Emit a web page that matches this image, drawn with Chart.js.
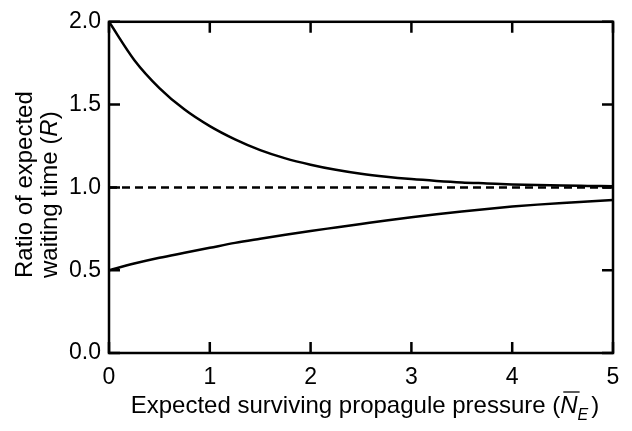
<!DOCTYPE html>
<html>
<head>
<meta charset="utf-8">
<script src="https://cdn.jsdelivr.net/npm/chart.js@4/dist/chart.umd.min.js"></script>
<style>
  html, body { margin: 0; padding: 0; background: #fff; }
  #wrap { width: 632px; height: 431px; }
</style>
</head>
<body>
<div id="wrap"><canvas id="ratioChart" width="632" height="431"></canvas></div>
<script>
// Values
const xValues = [0, 0.25, 0.5, 0.75, 1, 1.25, 1.5, 1.75, 2, 2.25, 2.5, 2.75, 3, 3.25, 3.5, 3.75, 4, 4.25, 4.5, 4.75, 5];
const upperRatio = [2.0, 1.77, 1.60, 1.47, 1.37, 1.29, 1.225, 1.175, 1.137, 1.106, 1.082, 1.064, 1.05, 1.039, 1.030, 1.024, 1.018, 1.014, 1.011, 1.009, 1.007];
const lowerRatio = [0.50, 0.54, 0.575, 0.605, 0.635, 0.665, 0.69, 0.714, 0.737, 0.758, 0.779, 0.80, 0.82, 0.838, 0.855, 0.87, 0.884, 0.896, 0.906, 0.915, 0.924];
const refX = [0, 5];
const refLine = [1, 1];
const xTicks = [0, 1, 2, 3, 4, 5];
const yTicks = [0, 0.5, 1.0, 1.5, 2.0];

const FONT = '"Liberation Sans", Arial, sans-serif';

const toPoints = (xs, ys) => xs.map((x, i) => ({ x: x, y: ys[i] }));

// Frame box, inward ticks on all four sides and the axis titles
const framePlugin = {
    id: 'frameTicks',
    afterDraw(chart) {
        const ctx = chart.ctx;
        const a = chart.chartArea;
        const xs = chart.scales.x, ys = chart.scales.y;
        const len = 11;
        ctx.save();
        ctx.strokeStyle = '#000';
        ctx.lineWidth = 2.5;
        ctx.strokeRect(a.left, a.top, a.right - a.left, a.bottom - a.top);
        ctx.beginPath();
        xTicks.forEach(v => {
            const px = xs.getPixelForValue(v);
            ctx.moveTo(px, a.bottom); ctx.lineTo(px, a.bottom - len);
            ctx.moveTo(px, a.top); ctx.lineTo(px, a.top + len);
        });
        yTicks.forEach(v => {
            const py = ys.getPixelForValue(v);
            ctx.moveTo(a.left, py); ctx.lineTo(a.left + len, py);
            ctx.moveTo(a.right, py); ctx.lineTo(a.right - len, py);
        });
        ctx.stroke();

        // x title with N-bar sub E
        ctx.fillStyle = '#000';
        ctx.textBaseline = 'alphabetic';
        ctx.textAlign = 'left';
        const size = 24;
        const normal = size + 'px ' + FONT;
        const ital = 'italic ' + size + 'px ' + FONT;
        const sub = 'italic 16px ' + FONT;
        const p1 = 'Expected surviving propagule pressure (';
        ctx.font = normal; const w1 = ctx.measureText(p1).width;
        ctx.font = ital; const wN = ctx.measureText('N').width;
        ctx.font = sub; const wE = ctx.measureText('E').width;
        ctx.font = normal; const wP = ctx.measureText(')').width;
        const total = w1 + wN + wE + 3 + wP;
        let x = 365 - total / 2;
        const base = 413;
        ctx.font = normal; ctx.fillText(p1, x, base); x += w1;
        ctx.font = ital; ctx.fillText('N', x, base);
        ctx.lineWidth = 1.3;
        ctx.beginPath(); ctx.moveTo(x + 3, base - 21); ctx.lineTo(x + wN + 2, base - 21); ctx.stroke();
        x += wN;
        ctx.font = sub; ctx.fillText('E', x, base + 7); x += wE + 3;
        ctx.font = normal; ctx.fillText(')', x, base);

        // y title, two lines, rotated
        ctx.translate(0, 278);
        ctx.rotate(-Math.PI / 2);
        ctx.font = normal;
        ctx.fillText('Ratio of expected', 0, 32);
        const l2 = 'waiting time (';
        ctx.fillText(l2, 0, 57);
        let wx = ctx.measureText(l2).width;
        ctx.font = ital; ctx.fillText('R', wx, 57);
        wx += ctx.measureText('R').width;
        ctx.font = normal; ctx.fillText(')', wx, 57);
        ctx.restore();
    }
};

new Chart(document.getElementById('ratioChart'), {
    type: 'line',
    data: {
        datasets: [
            { data: toPoints(xValues, upperRatio), borderColor: '#000', borderWidth: 2.5, pointRadius: 0, cubicInterpolationMode: 'monotone', fill: false },
            { data: toPoints(xValues, lowerRatio), borderColor: '#000', borderWidth: 2.5, pointRadius: 0, cubicInterpolationMode: 'monotone', fill: false },
            { data: toPoints(refX, refLine), borderColor: '#000', borderWidth: 2.5, borderDash: [8, 5], pointRadius: 0, fill: false }
        ]
    },
    options: {
        responsive: false,
        animation: false,
        layout: { padding: { top: 17, right: 19, left: 0, bottom: 0 } },
        plugins: { legend: { display: false }, tooltip: { enabled: false } },
        scales: {
            x: {
                type: 'linear', min: 0, max: 5,
                afterBuildTicks: s => { s.ticks = xTicks.map(v => ({ value: v })); },
                afterFit: s => { s.height = 78; },
                grid: { display: false, drawTicks: false },
                border: { display: false },
                ticks: { color: '#000', font: { family: FONT, size: 23 }, padding: 11, maxRotation: 0, callback: v => String(v) }
            },
            y: {
                type: 'linear', min: 0, max: 2,
                afterBuildTicks: s => { s.ticks = yTicks.map(v => ({ value: v })); },
                afterFit: s => { s.width = 109; },
                grid: { display: false, drawTicks: false },
                border: { display: false },
                ticks: { color: '#000', font: { family: FONT, size: 23 }, padding: 8, callback: v => v.toFixed(1) }
            }
        }
    },
    plugins: [framePlugin]
});
</script>
</body>
</html>
